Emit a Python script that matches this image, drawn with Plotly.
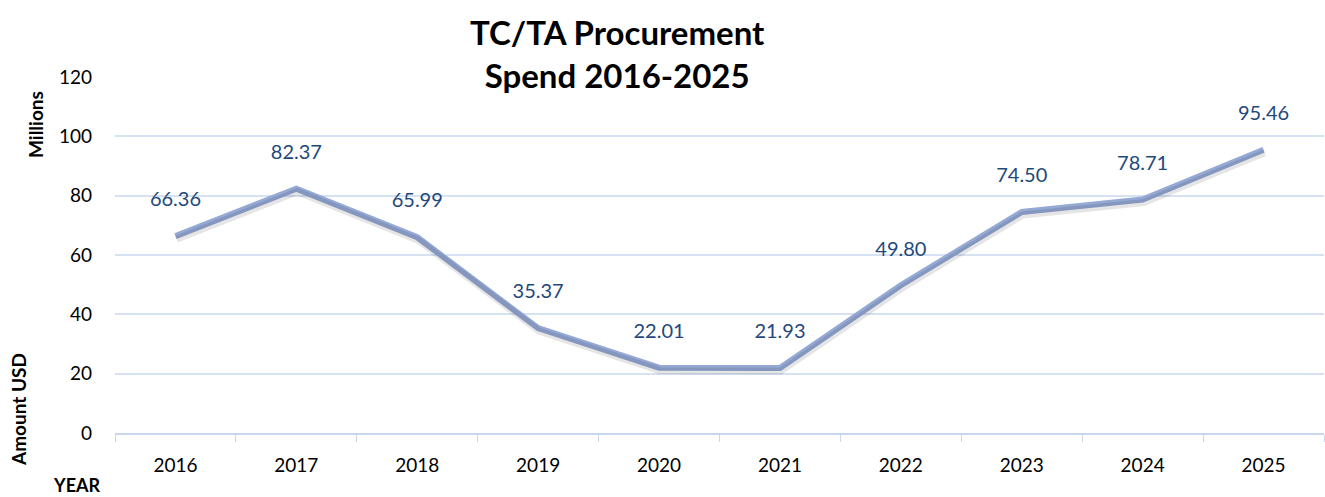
import plotly.graph_objects as go

years = ["2016", "2017", "2018", "2019", "2020", "2021", "2022", "2023", "2024", "2025"]
spend = [66.36, 82.37, 65.99, 35.37, 22.01, 21.93, 49.80, 74.50, 78.71, 95.46]
y_ticks = [0, 20, 40, 60, 80, 100, 120]

FONT = "Lato"
LBL = "#1F497D"
W, H = 1325, 497
L, R, T, B = 115, 1, 77, 64
pw, ph = W - L - R, H - T - B


def px(x):
    return (x - L) / pw


def py(y):
    return (H - B - y) / ph


fig = go.Figure()

# soft shadow trace on an overlaying axis shifted a few pixels down-right
dx_px, dy_px = 1, 3
dx = dx_px * 10 / pw
dy = dy_px * 120 / ph
fig.add_trace(go.Scatter(
    x=list(range(len(years))), y=spend, mode="lines",
    line=dict(color="rgba(0,0,0,0.10)", width=7),
    xaxis="x2", yaxis="y2", hoverinfo="skip", showlegend=False))

fig.add_trace(go.Scatter(
    x=years, y=spend, mode="lines+markers+text",
    line=dict(color="#95A9D5", width=6),
    marker=dict(size=38, opacity=0),
    text=[f"{v:.2f}" for v in spend],
    textposition="top center",
    textfont=dict(family=FONT, size=20, color=LBL),
    showlegend=False))

ann_common = dict(xref="paper", yref="paper", showarrow=False,
                  xanchor="center", yanchor="middle")

fig.update_layout(
    width=W, height=H,
    margin=dict(l=L, r=R, t=T, b=B, autoexpand=False),
    plot_bgcolor="white", paper_bgcolor="white",
    font=dict(family=FONT, size=19, color="#000000"),
    xaxis=dict(
        type="category", range=[-0.5, 9.5], automargin=False,
        showgrid=False, showline=True, linecolor="#C9D7EC", linewidth=1.5,
        ticks="outside", tickson="boundaries", ticklen=7, tickcolor="#C9D7EC",
        tickfont=dict(family=FONT, size=19, color="#000000"),
        ticklabelstandoff=14),
    yaxis=dict(
        range=[0, 120], tickvals=y_ticks, showgrid=True, gridcolor="#D6E1F1",
        gridwidth=1.5, zeroline=False, showline=False, ticks="", automargin=False,
        tickfont=dict(family=FONT, size=19, color="#000000"),
        ticklabelstandoff=22),
    xaxis2=dict(range=[-0.5 - dx, 9.5 - dx], overlaying="x", visible=False),
    yaxis2=dict(range=[0 + dy, 120 + dy], overlaying="y", visible=False),
    annotations=[
        dict(text="<b>TC/TA Procurement<br>Spend 2016-2025</b>", x=px(617), y=py(53),
             align="center", font=dict(family=FONT, size=33, color="#000000"),
             **ann_common),
        dict(text="<b>Millions</b>", textangle=-90, x=px(35), y=py(125),
             font=dict(size=19), **ann_common),
        dict(text="<b>Amount USD</b>", textangle=-90, x=px(18), y=py(410),
             font=dict(size=19), **ann_common),
        dict(text="<b>YEAR</b>", x=px(77), y=py(485), font=dict(size=18),
             **ann_common),
    ],
)

fig.write_html("out.html", config={"displayModeBar": False},
               post_script="document.body.style.margin='0';")
